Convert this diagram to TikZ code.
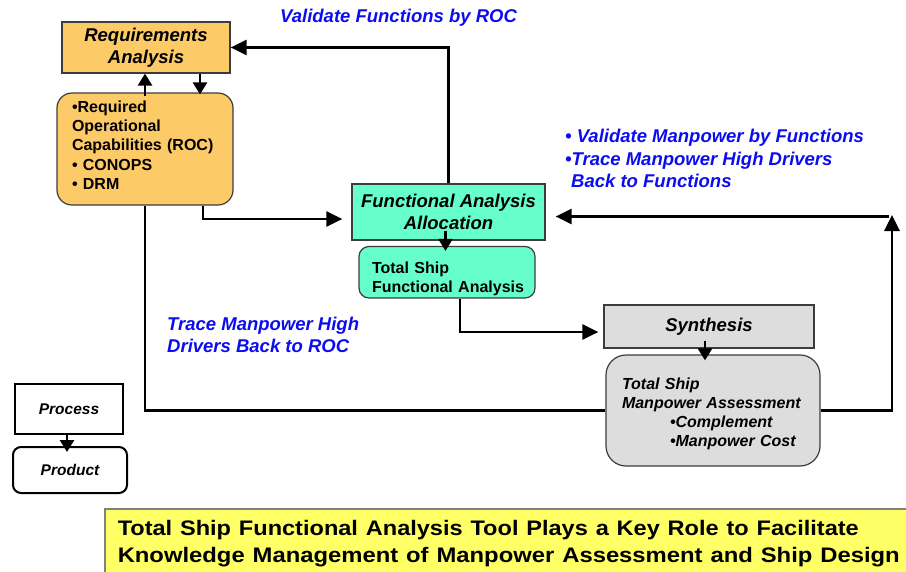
\documentclass[tikz,border=0pt]{standalone}
\usepackage{fontspec}
\setmainfont{Liberation Sans}
\usepackage{graphicx}
\usetikzlibrary{arrows.meta}
\definecolor{reqfill}{RGB}{253,202,104}
\definecolor{fafill}{RGB}{102,255,204}
\definecolor{synfill}{RGB}{221,221,221}
\definecolor{banfill}{RGB}{255,255,102}
\definecolor{lblblue}{RGB}{12,12,240}
\definecolor{edgecol}{RGB}{60,60,60}
\begin{document}
\begin{tikzpicture}[x=1pt,y=-1pt,
  sqbox/.style={draw=edgecol, line width=1.2pt, inner sep=0pt},
  rbox/.style={draw=edgecol, line width=1.2pt, inner sep=0pt},
  keybox/.style={draw=black, line width=2pt, inner sep=0pt, fill=white,
     font=\fontsize{15.5}{18}\selectfont\bfseries\itshape},
  ttl/.style={font=\fontsize{18.5}{22}\selectfont\bfseries\itshape, align=center},
  bodytxt/.style={font=\fontsize{16}{19.3}\selectfont\bfseries, align=left},
  bluelbl/.style={text=lblblue, inner sep=0pt, align=left,
     font=\fontsize{18.5}{22.5}\selectfont\bfseries\itshape},
  arr/.style={line width=2.7pt, -{Triangle[length=16pt,width=15pt]}},
  shortarr/.style={line width=2.6pt, -{Triangle[length=12pt,width=14pt]}},
  plainline/.style={line width=2.7pt}]
\useasboundingbox (0,0) rectangle (906,571);

% main boxes
\node[sqbox, ttl, fill=reqfill, minimum width=168, minimum height=51] (req) at (146,47.5) {Requirements\\Analysis};
\node[rbox, bodytxt, fill=reqfill, rounded corners=15, minimum width=176, minimum height=112, text width=146] (roc) at (145,149)
  {•Required\\Operational\\Capabilities (ROC)\\• CONOPS\\• DRM\rule[-8pt]{0pt}{8pt}};
\node[sqbox, ttl, fill=fafill, minimum width=193, minimum height=56] (fa) at (448.5,212) {Functional Analysis\\Allocation};
\node[rbox, bodytxt, font=\fontsize{16}{19}\selectfont\bfseries, fill=fafill, rounded corners=10, minimum width=176, minimum height=51.5, text width=162] (tsfa) at (447,272.25)
  {\rule{0pt}{24pt}\hspace*{6pt}Total Ship\\\hspace*{6pt}Functional Analysis};
\node[sqbox, ttl, fill=synfill, minimum width=210, minimum height=43] (syn) at (709,326.5) {Synthesis};
\node[rbox, bodytxt, font=\fontsize{16}{19}\selectfont\bfseries\itshape, fill=synfill, rounded corners=20, minimum width=214, minimum height=111, text width=182] (tsma) at (713,410.5)
  {\rule{0pt}{18pt}Total Ship\\Manpower Assessment\\\hspace*{48pt}•Complement\\\hspace*{48pt}•Manpower Cost};

% key
\node[keybox, minimum width=108, minimum height=50] (proc) at (69,409) {Process};
\node[keybox, rounded corners=8, minimum width=114, minimum height=46] (prod) at (70,470) {Product};

% banner
\node[draw=gray, line width=1.5pt, fill=banfill, anchor=north west, minimum width=812, minimum height=70,
  inner xsep=13pt, inner ysep=0pt, text width=786, align=left,
  font=\fontsize{21}{27}\selectfont\bfseries] (banner) at (104,508)
  {\resizebox{741pt}{\height}{Total Ship Functional Analysis Tool Plays a Key Role to Facilitate}\\
   \resizebox{782pt}{\height}{Knowledge Management of Manpower Assessment and Ship Design}};

% blue labels
\node[bluelbl, anchor=west] (lbltop) at (280,18) {Validate Functions by ROC};
\node[bluelbl, anchor=west] (lblright) at (565,158.5) {• Validate Manpower by Functions\\•Trace Manpower High Drivers\\\hspace*{6pt}Back to Functions};
\node[bluelbl, font=\fontsize{18.5}{22}\selectfont\bfseries\itshape, anchor=west] (lblleft) at (167,335) {Trace Manpower High\\Drivers Back to ROC};

% coordinates for the right loop
\coordinate (rc) at (892,215);
\coordinate (rc2) at (889,216.5);

% connectors
\draw[arr] (fa.north) |- (req.east);
\draw[shortarr] ([yshift=-4]roc.north) -- (roc.north |- req.south);
\draw[shortarr] ([xshift=54]req.south) -- ([xshift=55,yshift=-2]roc.north);
\draw[arr, shorten >=9pt] ([xshift=58]roc.south) |- ([yshift=-7]fa.west);
\draw[shortarr] ([xshift=-3,yshift=10]fa.south) -- ([xshift=-1.5,yshift=-5]tsfa.north);
\draw[arr, shorten >=5pt] ([xshift=13]tsfa.south) |- ([yshift=-5.5]syn.west);
\draw[shortarr] ([xshift=-4,yshift=8]syn.south) -- ([xshift=-8,yshift=-6]tsma.north);
\draw[arr] (tsma.east) -| (rc);
\draw[arr, shorten >=10pt] (rc2) -- (rc2 -| fa.east);
\draw[plainline] (tsma.west) -| (roc.south);
\draw[shortarr] ([xshift=-2]proc.south) -- ([xshift=-3,yshift=-6]prod.north);
\end{tikzpicture}
\end{document}
